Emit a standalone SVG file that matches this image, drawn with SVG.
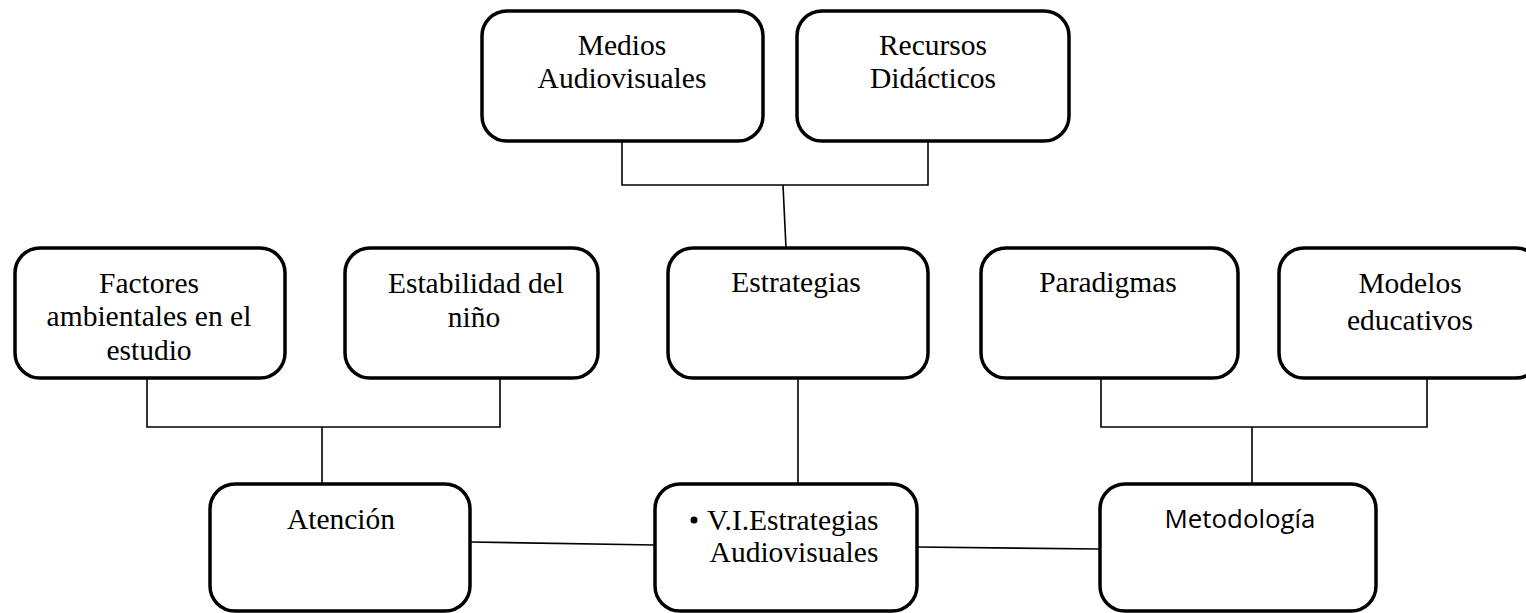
<svg xmlns="http://www.w3.org/2000/svg" width="1526" height="613" viewBox="0 0 1526 613">
<style>
.box{fill:#fff;stroke:#000;stroke-width:3.5}
.t{font-family:"Liberation Serif","Times New Roman",serif;font-size:29.5px;fill:#000;text-anchor:middle}
.s{font-family:"Open Sans","Noto Sans","Liberation Sans",sans-serif;font-size:25px;fill:#000;text-anchor:middle}
.c{fill:none;stroke:#000;stroke-width:1.6}
</style>
<rect width="1526" height="613" fill="#fff"/>
<g id="connectors">
<polyline class="c" points="622,141 622,185 928,185 928,141"/>
<line class="c" x1="783" y1="185" x2="786" y2="248"/>
<polyline class="c" points="147,378 147,427 500,427 500,378"/>
<line class="c" x1="322" y1="427" x2="322" y2="484"/>
<line class="c" x1="798" y1="378" x2="798" y2="484"/>
<polyline class="c" points="1101,378 1101,427 1427,427 1427,378"/>
<line class="c" x1="1252" y1="427" x2="1252" y2="484"/>
<line class="c" x1="470" y1="542" x2="655" y2="545"/>
<line class="c" x1="917" y1="547" x2="1100" y2="549"/>
</g>
<g id="medios">
<rect class="box" x="482" y="11" width="281" height="130" rx="25"/>
<text class="t" x="622" y="55">Medios</text>
<text class="t" x="622" y="88">Audiovisuales</text>
</g>
<g id="recursos">
<rect class="box" x="797" y="11" width="272" height="130" rx="25"/>
<text class="t" x="933" y="55">Recursos</text>
<text class="t" x="933" y="88">Didácticos</text>
</g>
<g id="factores">
<rect class="box" x="15" y="248" width="270" height="130" rx="25"/>
<text class="t" x="149" y="293">Factores</text>
<text class="t" x="149" y="326">ambientales en el</text>
<text class="t" x="149" y="360">estudio</text>
</g>
<g id="estabilidad">
<rect class="box" x="345" y="248" width="253" height="130" rx="25"/>
<text class="t" x="476" y="293">Estabilidad del</text>
<text class="t" x="474" y="327">niño</text>
</g>
<g id="estrategias">
<rect class="box" x="668" y="248" width="260" height="130" rx="25"/>
<text class="t" x="796" y="292">Estrategias</text>
</g>
<g id="paradigmas">
<rect class="box" x="981" y="248" width="257" height="130" rx="25"/>
<text class="t" x="1108" y="292">Paradigmas</text>
</g>
<g id="modelos">
<rect class="box" x="1279" y="248" width="262" height="130" rx="25"/>
<text class="t" x="1410" y="293">Modelos</text>
<text class="t" x="1410" y="330">educativos</text>
</g>
<g id="atencion">
<rect class="box" x="210" y="484" width="260" height="127" rx="25"/>
<text class="t" x="341" y="529">Atención</text>
</g>
<g id="vi">
<rect class="box" x="655" y="484" width="262" height="127" rx="25"/>
<circle cx="694" cy="520" r="3.5" fill="#000"/>
<text class="t" x="707" y="530" style="text-anchor:start">V.I.Estrategias</text>
<text class="t" x="794" y="562">Audiovisuales</text>
</g>
<g id="metodologia">
<rect class="box" x="1100" y="484" width="276" height="127" rx="25"/>
<text class="s" x="1240" y="528" textLength="151" lengthAdjust="spacingAndGlyphs">Metodología</text>
</g>
</svg>
